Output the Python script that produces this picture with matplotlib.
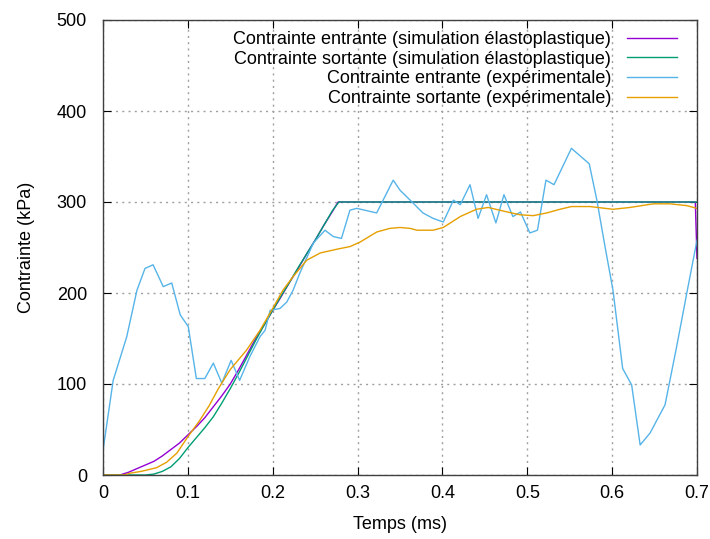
import numpy as np
import matplotlib as mpl
mpl.use('Agg')
import matplotlib.pyplot as plt

# gnuplot-like look
mpl.rcParams.update({
    "font.family": ["Liberation Sans", "DejaVu Sans"],
    "font.size": 13,
    "axes.linewidth": 1.0,
    "axes.edgecolor": "#404040",
    "xtick.direction": "in",
    "ytick.direction": "in",
    "xtick.top": True,
    "ytick.right": True,
    "xtick.major.size": 6,
    "ytick.major.size": 6,
    "xtick.major.pad": 7,
    "ytick.major.pad": 11.5,
    "lines.linewidth": 1.0,
})

# simulation elastoplastique, contrainte entrante
t_sim_in = [0, 0.02, 0.03, 0.04, 0.05, 0.06, 0.07, 0.08, 0.09, 0.10, 0.11, 0.12,
            0.13, 0.14, 0.15, 0.16, 0.17, 0.18, 0.19, 0.20, 0.21, 0.22, 0.23, 0.24,
            0.25, 0.26, 0.27, 0.277, 0.69, 0.698, 0.7]
s_sim_in = [0, 0, 3, 7, 11, 15, 21, 28, 35, 44, 53, 63,
            75, 87, 100, 116, 133, 150, 165, 181, 196, 212, 227, 243,
            258, 274, 289, 300, 300, 300, 238]

# simulation elastoplastique, contrainte sortante
t_sim_out = [0, 0.05, 0.06, 0.07, 0.08, 0.09, 0.10, 0.11, 0.12, 0.13, 0.14, 0.15,
             0.16, 0.17, 0.18, 0.19, 0.20, 0.21, 0.22, 0.23, 0.24, 0.25, 0.26, 0.27,
             0.278, 0.7]
s_sim_out = [0, 0, 1, 4, 9, 18, 30, 41, 52, 64, 79, 95,
             112, 130, 148, 165, 181, 197, 212, 228, 243, 258, 274, 290,
             300, 300]

# experimental, contrainte entrante
t_exp_in = [0, 0.012, 0.028, 0.040, 0.0495, 0.059, 0.071, 0.081, 0.091, 0.1005,
            0.110, 0.120, 0.130, 0.140, 0.151, 0.161, 0.173, 0.185, 0.191, 0.197,
            0.2086, 0.2165, 0.224, 0.232, 0.248, 0.2616, 0.2714, 0.281, 0.291, 0.299,
            0.3225, 0.342, 0.35, 0.362, 0.377, 0.389, 0.401, 0.413, 0.421, 0.4325,
            0.442, 0.452, 0.463, 0.4725, 0.483, 0.492, 0.503, 0.512, 0.522, 0.5315,
            0.552, 0.573, 0.582, 0.5916, 0.601, 0.6124, 0.623, 0.633, 0.6446, 0.6623,
            0.676, 0.688, 0.7]
s_exp_in = [27, 104, 152, 203, 227, 231, 207, 211, 176, 163,
            106, 106, 123, 101, 126, 104, 130, 152, 159, 181,
            183, 190, 203, 222, 255, 269, 262, 260, 291, 293,
            288, 324, 313, 302, 288, 282, 278, 302, 297, 319,
            282, 308, 277, 308, 284, 289, 266, 269, 324, 319,
            359, 342, 302, 251, 203, 117, 99, 33, 46, 77,
            141, 200, 258]

# experimental, contrainte sortante
t_exp_out = [0, 0.025, 0.032, 0.045, 0.063, 0.075, 0.087, 0.1, 0.114, 0.125,
             0.136, 0.15, 0.169, 0.185, 0.2, 0.212, 0.224, 0.24, 0.256, 0.275,
             0.291, 0.303, 0.3225, 0.338, 0.35, 0.362, 0.37, 0.389, 0.401, 0.421,
             0.44, 0.454, 0.472, 0.491, 0.507, 0.523, 0.5385, 0.552, 0.574, 0.601,
             0.621, 0.6485, 0.668, 0.688, 0.7]
s_exp_out = [0, 0, 2, 4, 8, 14, 24, 42, 60, 76,
             95, 116, 137, 159, 183, 203, 218, 236, 244, 248,
             251, 256, 267, 271, 272, 271, 269, 269, 272, 284,
             292, 294, 290, 286, 285, 288, 292, 295, 295, 292,
             294, 298, 298, 296, 293]

labels = ["Contrainte entrante (simulation élastoplastique)",
          "Contrainte sortante (simulation élastoplastique)",
          "Contrainte entrante (expérimentale)",
          "Contrainte sortante (expérimentale)"]
colors = ["#9400d3", "#009e73", "#56b4e9", "#e69f00"]

fig = plt.figure(figsize=(7.10, 5.39), dpi=100)
ax = fig.add_axes([103/710, 1-475/539, 594/710, 455/539])

ax.plot(t_sim_in, s_sim_in, color=colors[0], label=labels[0])
ax.plot(t_sim_out, s_sim_out, color=colors[1], label=labels[1])
ax.plot(t_exp_in, s_exp_in, color=colors[2], label=labels[2])
ax.plot(t_exp_out, s_exp_out, color=colors[3], label=labels[3])

ax.set_xlim(0, 0.7)
ax.set_ylim(0, 500)
ax.set_xticks(np.arange(0, 0.71, 0.1))
ax.set_xticklabels(["0", "0.1", "0.2", "0.3", "0.4", "0.5", "0.6", "0.7"])
ax.set_yticks(np.arange(0, 501, 100))
ax.grid(True, linestyle=(0, (1.5, 3)), color="#a0a0a0", linewidth=1.0)
ax.set_xlabel("Temps (ms)", labelpad=10)
ax.set_ylabel("Contrainte (kPa)", labelpad=16)

ax.legend(loc="upper right", markerfirst=False, frameon=False,
          handlelength=2.8, handletextpad=0.85, labelspacing=0.15,
          borderaxespad=0.2, bbox_to_anchor=(0.985, 1.0))

fig.savefig("out.png", dpi=100)
